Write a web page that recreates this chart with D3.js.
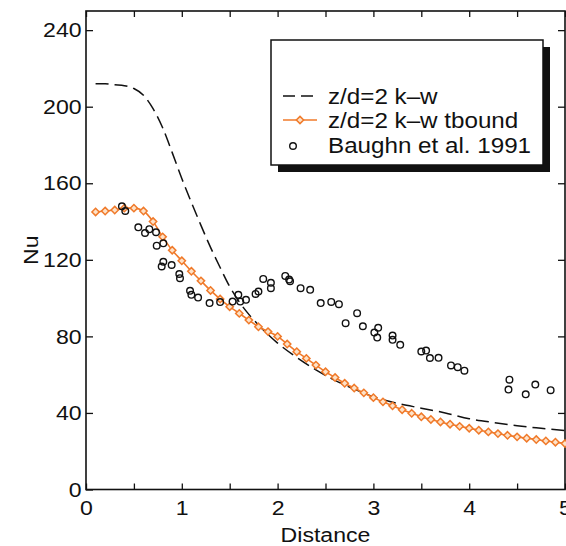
<!DOCTYPE html>
<html><head><meta charset="utf-8">
<script src="https://cdn.jsdelivr.net/npm/d3@7"></script>
<style>
html,body{margin:0;padding:0;background:#fff;}
svg{display:block;font-family:"Liberation Sans",Arial,sans-serif;}
</style></head><body>
<svg id="chart" width="566" height="546"></svg>
<script>
// ---- data ----
const xTickValues = [0,0.5,1,1.5,2,2.5,3,3.5,4,4.5,5];
const xTickLabels = ["0","","1","","2","","3","","4","","5"];
const yTickValues = [0,40,80,120,160,200,240];
const yTickLabels = ["0","40","80","120","160","200","240"];

const legendLabels = ["z/d=2 k\u2013w","z/d=2 k\u2013w tbound","Baughn et al. 1991"];

const kwDist = [0.1,0.2,0.3,0.4,0.5,0.6,0.7,0.8,0.9,1.0,1.1,1.2,1.3,1.4,1.5,1.6,1.7,1.8,1.9,2.0,2.2,2.4,2.6,2.8,3.0,3.25,3.5,3.75,4.0,4.25,4.5,4.75,5.0];
const kwNu   = [212,212,211.5,211,209.5,206,199,189,176,162.5,150,138,126.5,116,106,98,91.5,86,81,76.5,69,62.5,57,52.5,48.5,45,42.5,40,37,35,33.3,32,30.8];

const tbDist = [0.1,0.2,0.3,0.4,0.5,0.6,0.7,0.8,0.9,1.0,1.1,1.2,1.3,1.4,1.5,1.6,1.7,1.8,1.9,2.0,2.1,2.2,2.3,2.4,2.5,2.6,2.7,2.8,2.9,3.0,3.1,3.2,3.3,3.4,3.5,3.6,3.7,3.8,3.9,4.0,4.1,4.2,4.3,4.4,4.5,4.6,4.7,4.8,4.9,5.0];
const tbNu   = [145,145.5,146,147,147,145.5,140,132,125,119.5,114,109,104,99.5,95.5,92,88.5,85,82.5,80,76,72,68.5,65,61.5,58.5,55.5,53,50.5,48,45.8,43.7,41.7,39.8,38,36.6,35.3,34.1,33,32,31,30.1,29.2,28.3,27.5,26.8,26.1,25.4,24.7,24];

const baughnDist = [0.375,0.41,0.546,0.616,0.661,0.731,0.738,0.807,0.807,0.79,0.894,0.974,0.981,1.086,1.10,1.17,1.29,1.40,1.53,1.59,1.61,1.67,1.77,1.80,1.85,1.93,1.93,2.08,2.12,2.13,2.24,2.34,2.45,2.56,2.64,2.71,2.83,2.89,3.01,3.05,3.04,3.20,3.20,3.28,3.50,3.55,3.59,3.68,3.81,3.88,3.95,4.42,4.41,4.59,4.69,4.85];
const baughnNu   = [148,145.5,137,134,136,134.4,127.4,128.6,119,116.5,117.3,112.6,110.4,103.8,101.7,100.3,97.4,97.9,98.2,101.7,98.2,99.1,102.2,103.4,110,108,105.2,111.6,109.7,108.8,105.2,104.3,97.4,98,96.8,86.9,92.1,85.3,82,84.5,79.4,80.4,78.2,75.6,72.1,72.6,68.7,68.8,64.8,63.9,62.1,57.4,52.2,49.7,54.8,51.9];

// ---- layout ----
const L = 86, R = 565, T = 11, B = 489.5;
const orange = "#f07a2a";
const svg = d3.select("#chart");
const x = d3.scaleLinear().domain([0,5]).range([L,R]);
const y = d3.scaleLinear().domain([0,250]).range([B,T]);
const fontSize = 21;

// axes (ticks inward)
const gB = svg.append("g").attr("transform",`translate(0,${B})`)
  .call(d3.axisBottom(x).tickValues(xTickValues).tickSize(-6).tickPadding(10.5)
        .tickFormat((d,i)=>xTickLabels[i]));
const gT = svg.append("g").attr("transform",`translate(0,${T})`)
  .call(d3.axisTop(x).tickValues(xTickValues).tickSize(-6).tickFormat(""));
const gL = svg.append("g").attr("transform",`translate(${L},0)`)
  .call(d3.axisLeft(y).tickValues(yTickValues).tickSize(-7).tickPadding(4)
        .tickFormat((d,i)=>yTickLabels[i]));
const gR = svg.append("g").attr("transform",`translate(${R},0)`)
  .call(d3.axisRight(y).tickValues(yTickValues.slice(1)).tickSize(-7).tickFormat(""));
[gB,gT,gL,gR].forEach(g=>{
  g.select(".domain").remove();
  g.selectAll(".tick line").attr("stroke","#111").attr("stroke-width",1.3);
  g.selectAll(".tick text").attr("fill","#111").attr("font-size",fontSize)
    .attr("font-family","Liberation Sans, Arial, sans-serif");
});
gL.selectAll(".tick text").attr("transform","scale(1.1,1)");
gB.selectAll(".tick text").attr("transform","scale(1.1,1)");

// frame
svg.append("rect").attr("x",L).attr("y",T).attr("width",R-L).attr("height",B-T)
  .attr("fill","none").attr("stroke","#111").attr("stroke-width",1.6);

// dashed k-w line
const line = d3.line().curve(d3.curveMonotoneX);
svg.append("path")
  .attr("d", line(kwDist.map((d,i)=>[x(d),y(kwNu[i])])))
  .attr("fill","none").attr("stroke","#111").attr("stroke-width",1.5)
  .attr("stroke-dasharray","13,6");

// orange tbound line
svg.append("path")
  .attr("d", line(tbDist.map((d,i)=>[x(d),y(tbNu[i])])))
  .attr("fill","none").attr("stroke",orange).attr("stroke-width",1.6);
const diamond = d3.symbol().type(d3.symbolDiamond2).size(34);
svg.append("g").selectAll("path").data(tbDist).join("path")
  .attr("d", diamond)
  .attr("transform",(d,i)=>`translate(${x(d)},${y(tbNu[i])})`)
  .attr("fill","#fde2c8").attr("stroke",orange).attr("stroke-width",1.5);

// Baughn circles
svg.append("g").selectAll("circle").data(baughnDist).join("circle")
  .attr("cx",d=>x(d)).attr("cy",(d,i)=>y(baughnNu[i])).attr("r",3.3)
  .attr("fill","none").attr("stroke","#111").attr("stroke-width",1.4);

// axis titles
svg.append("text").attr("x",0).attr("y",0)
  .attr("transform",`translate(${(L+R)/2},542) scale(1.1,1)`)
  .attr("text-anchor","middle").attr("font-size",21).attr("fill","#111").text("Distance");
svg.append("text")
  .attr("transform",`translate(38,${(T+B)/2}) rotate(-90) scale(1.1,1)`)
  .attr("text-anchor","middle").attr("font-size",21).attr("fill","#111").text("Nu");

// legend
const lg = svg.append("g");
const lx = 271, ly = 40, lw = 272, lh = 125;
lg.append("rect").attr("x",lx+7).attr("y",ly+7).attr("width",lw).attr("height",lh).attr("fill","#111");
lg.append("rect").attr("x",lx).attr("y",ly).attr("width",lw).attr("height",lh)
  .attr("fill","#fff").attr("stroke","#111").attr("stroke-width",1.5);
const rowsY = [96,120,145];
lg.append("line").attr("x1",283).attr("x2",317).attr("y1",rowsY[0]).attr("y2",rowsY[0])
  .attr("stroke","#111").attr("stroke-width",1.5).attr("stroke-dasharray","12,6");
lg.append("line").attr("x1",283).attr("x2",317).attr("y1",rowsY[1]).attr("y2",rowsY[1])
  .attr("stroke",orange).attr("stroke-width",1.6);
lg.append("path").attr("d",diamond).attr("transform",`translate(300,${rowsY[1]})`)
  .attr("fill","#fde2c8").attr("stroke",orange).attr("stroke-width",1.5);
lg.append("circle").attr("cx",293).attr("cy",rowsY[2]+1).attr("r",3.3)
  .attr("fill","none").attr("stroke","#111").attr("stroke-width",1.4);
legendLabels.forEach((t,i)=>{
  lg.append("text").attr("transform",`translate(328,${rowsY[i]+8}) scale(1.1,1)`)
    .attr("font-size",22).attr("fill","#111").text(t);
});
</script>
</body></html>
